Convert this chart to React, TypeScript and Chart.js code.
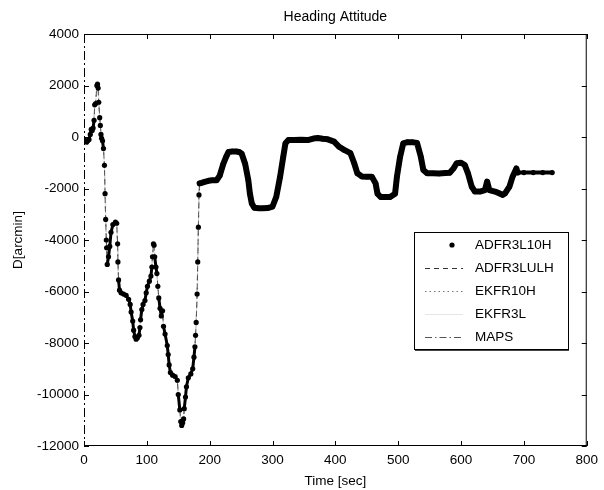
import React, { useEffect, useRef } from 'react';
import { Chart, registerables } from 'chart.js';

Chart.register(...registerables);

const chartTitle = 'Heading Attitude';
const xAxisLabel = 'Time [sec]';
const yAxisLabel = 'D[arcmin]';
const xTickValues = [0, 100, 200, 300, 400, 500, 600, 700, 800];
const yTickValues = [-12000, -10000, -8000, -6000, -4000, -2000, 0, 2000, 4000];
const seriesNames = ['ADFR3L10H', 'ADFR3LULH', 'EKFR10H', 'EKFR3L', 'MAPS'];

const timeSec = [
  0, 2, 4, 6, 8, 10, 11.5, 13, 14.5, 16, 17, 18.5, 20.5, 21.5, 22.5, 23.5, 25, 26, 27, 28, 29.5, 31, 32.5, 33.5, 34.5, 35.5,
  36, 37, 39, 41, 43, 46, 50, 52, 53.5, 54, 55, 56.5, 59, 63, 67, 71, 73.5, 75, 77.5, 79, 81, 83, 85, 87.5, 89, 90, 92, 94,
  97, 99, 101, 104, 106.5, 108, 109, 110.5, 111.5, 112.5, 114.5, 116, 117.5, 119, 121, 123, 125, 126.5, 129, 132.5, 134,
  135.5, 137.5, 141, 145, 148.5, 150, 152.5, 154, 155.5, 157, 158.5, 159.5, 161.5, 163, 166, 170, 173, 175, 176.5, 177.5,
  178.5, 180, 181, 182, 183, 184, 187, 192, 198, 204, 211, 216, 221.5, 226, 230, 236, 242, 247, 251, 256.5, 261.5, 264, 267,
  271, 278, 285, 292, 300, 306, 312, 317, 320.5, 325, 335, 345, 356, 365, 372, 380, 388, 398, 406, 414, 424, 430, 435, 442,
  450, 458, 464, 467, 472, 480, 487, 495, 498, 503, 508, 515, 522, 530, 536, 540, 546, 555, 565, 575, 582, 588, 593, 600,
  606, 611, 617, 622, 630, 638, 641.5, 645, 654, 662, 666, 670, 677, 682, 688, 690, 700, 715, 730, 745,
];

const adfr3l10h = [
  -100, -150, -200, -150, -100, 100, 300, 250, 350, 650, 1250, 1300, 2000, 2050, 1900, 1350, 750, 450, 100, -50, -150, -450,
  -1100, -2200, -3200, -4000, -4300, -4950, -4650, -4250, -3700, -3400, -3300, -3350, -4150, -4850, -5550, -5950, -6050,
  -6100, -6150, -6300, -6500, -6800, -7150, -7500, -7750, -7850, -7800, -7700, -7400, -7100, -6700, -6500, -6350, -6050,
  -5800, -5600, -5400, -5050, -4650, -4150, -4200, -4650, -5050, -5300, -5800, -6250, -6650, -6950, -6750, -7350, -7650,
  -8100, -8450, -8850, -9150, -9250, -9300, -9450, -10000, -10600, -11050, -11200, -11100, -10950, -10550, -10100, -9700,
  -9350, -9200, -9000, -8550, -8150, -7700, -7200, -6100, -4850, -3500, -2250, -1800, -1780, -1740, -1700, -1680, -1680,
  -1500, -1050, -780, -580, -560, -560, -580, -650, -1050, -1680, -2200, -2580, -2750, -2770, -2770, -2760, -2700, -2320,
  -1550, -780, -250, -120, -120, -110, -120, -60, -40, -70, -90, -180, -380, -500, -630, -1020, -1410, -1530, -1540, -1540,
  -1800, -2200, -2330, -2330, -2330, -2200, -1540, -770, -250, -200, -200, -230, -770, -1280, -1410, -1410, -1420, -1400,
  -1390, -1220, -1020, -1000, -1090, -1410, -1930, -2120, -2120, -2060, -1730, -2060, -2120, -2200, -2250, -2190, -1930,
  -1540, -1220, -1380, -1380, -1380, -1380, -1380,
];
// The other estimators lie underneath the dots in the picture; read as the same values.
const adfr3lulh = [...adfr3l10h];
const ekfr10h = [...adfr3l10h];
const ekfr3l = [...adfr3l10h];
const maps = [...adfr3l10h];

const FONT = "'Liberation Sans', Arial, Helvetica, sans-serif";

const lineStyles = [
  { color: '#000000', dash: [] as number[] },
  { color: '#333333', dash: [5, 4] },
  { color: '#777777', dash: [1.5, 3] },
  { color: '#e6e6e6', dash: [] as number[] },
  { color: '#555555', dash: [7, 3, 1.5, 3] },
];

function toPoints(values: number[]) {
  return values.map((v, i) => ({ x: timeSec[i], y: v }));
}

const framePlugin = {
  id: 'matlabFrame',
  afterDatasetsDraw(chart: any) {
    const { ctx, chartArea, scales } = chart;
    const { left, right, top, bottom } = chartArea;
    ctx.save();
    ctx.strokeStyle = '#000';
    ctx.lineWidth = 1;
    ctx.beginPath();
    ctx.moveTo(left, top + 0.5);
    ctx.lineTo(right, top + 0.5);
    ctx.moveTo(right - 0.5, top);
    ctx.lineTo(right - 0.5, bottom);
    ctx.moveTo(left, bottom - 0.5);
    ctx.lineTo(right, bottom - 0.5);
    ctx.stroke();
    ctx.beginPath();
    ctx.setLineDash([9, 3, 2, 3]);
    ctx.moveTo(left + 0.5, top);
    ctx.lineTo(left + 0.5, bottom);
    ctx.stroke();
    ctx.setLineDash([]);
    const tl = 5;
    ctx.beginPath();
    xTickValues.forEach((t) => {
      const x = Math.round(scales.x.getPixelForValue(t)) + 0.5;
      ctx.moveTo(x, bottom);
      ctx.lineTo(x, bottom - tl);
      ctx.moveTo(x, top);
      ctx.lineTo(x, top + tl);
    });
    yTickValues.forEach((t) => {
      const y = Math.round(scales.y.getPixelForValue(t)) + 0.5;
      ctx.moveTo(left, y);
      ctx.lineTo(left + tl, y);
      ctx.moveTo(right, y);
      ctx.lineTo(right - tl, y);
    });
    ctx.stroke();

    ctx.fillStyle = '#000';
    ctx.textAlign = 'center';
    ctx.textBaseline = 'middle';
    ctx.font = `14px ${FONT}`;
    ctx.fillText(chartTitle, (left + right) / 2, 17);
    ctx.font = `13.5px ${FONT}`;
    ctx.fillText(xAxisLabel, (left + right) / 2, 481);
    ctx.save();
    ctx.translate(18.5, (top + bottom) / 2);
    ctx.rotate(-Math.PI / 2);
    ctx.fillText(yAxisLabel, 0, 0);
    ctx.restore();

    const bx = 414, by = 232, bw = 154, bh = 117;
    ctx.fillStyle = '#fff';
    ctx.fillRect(bx, by, bw, bh);
    ctx.strokeStyle = '#000';
    ctx.lineWidth = 1;
    ctx.strokeRect(bx + 0.5, by + 0.5, bw, bh);
    ctx.strokeStyle = '#444';
    ctx.beginPath();
    ctx.moveTo(bx + 1, by + bh + 1.5);
    ctx.lineTo(bx + bw + 1, by + bh + 1.5);
    ctx.stroke();
    ctx.textAlign = 'left';
    ctx.font = `13.5px ${FONT}`;
    seriesNames.forEach((name, i) => {
      const y = 245 + i * 23;
      const st = lineStyles[i];
      if (i === 0) {
        ctx.fillStyle = '#000';
        ctx.beginPath();
        ctx.arc(452, y, 2.6, 0, Math.PI * 2);
        ctx.fill();
      } else {
        ctx.strokeStyle = st.color;
        ctx.lineWidth = 1;
        ctx.setLineDash(st.dash);
        ctx.beginPath();
        ctx.moveTo(425, y + 0.5);
        ctx.lineTo(463, y + 0.5);
        ctx.stroke();
        ctx.setLineDash([]);
      }
      ctx.fillStyle = '#000';
      ctx.fillText(name, 475, y);
    });
    ctx.restore();
  },
};

export default function App() {
  const canvasRef = useRef<HTMLCanvasElement | null>(null);

  useEffect(() => {
    const canvas = canvasRef.current;
    if (!canvas) return;
    const seriesValues = [adfr3l10h, adfr3lulh, ekfr10h, ekfr3l, maps];
    const datasets: any[] = seriesValues.map((vals, i) => {
      if (i === 0) {
        return {
          label: seriesNames[0],
          data: toPoints(vals),
          showLine: true,
          borderColor: '#000',
          borderWidth: 6,
          borderCapStyle: 'round',
          borderJoinStyle: 'round',
          pointRadius: 2.6,
          pointBackgroundColor: '#000',
          pointBorderWidth: 0,
          segment: {
            borderColor: (c: any) => {
              const dx = Math.abs(c.p1.x - c.p0.x);
              const dy = Math.abs(c.p1.y - c.p0.y);
              return dy / Math.max(dx, 0.01) < 12 ? '#000' : 'rgba(0,0,0,0)';
            },
            borderWidth: (c: any) => {
              const t = timeSec[c.p0DataIndex];
              if (t < 184) return 3;
              return t >= 690 ? 4 : 6;
            },
          },
        };
      }
      return {
        label: seriesNames[i],
        data: toPoints(vals),
        showLine: true,
        borderColor: lineStyles[i].color,
        borderDash: lineStyles[i].dash,
        borderWidth: 0.8,
        pointRadius: 0,
      };
    });

    const tickFont = { family: FONT, size: 13.5 };
    const chart = new Chart(canvas, {
      type: 'scatter',
      data: { datasets },
      options: {
        responsive: false,
        animation: false,
        devicePixelRatio: 1,
        layout: { padding: { left: 0, right: 13, top: 34, bottom: 0 } },
        plugins: { legend: { display: false }, title: { display: false }, tooltip: { enabled: false } },
        scales: {
          x: {
            type: 'linear',
            min: 0,
            max: 800,
            afterFit: (s: any) => { s.height = 44; },
            afterBuildTicks: (s: any) => { s.ticks = xTickValues.map((v) => ({ value: v })); },
            ticks: { color: '#000', font: tickFont, padding: 6, maxRotation: 0, autoSkip: false, callback: (v: any) => String(v) },
            grid: { display: false, drawTicks: false },
            border: { display: false },
          },
          y: {
            type: 'linear',
            min: -12000,
            max: 4000,
            afterFit: (s: any) => { s.width = 84; },
            afterBuildTicks: (s: any) => { s.ticks = yTickValues.map((v) => ({ value: v })); },
            ticks: { color: '#000', font: tickFont, padding: 5, autoSkip: false, callback: (v: any) => String(v) },
            grid: { display: false, drawTicks: false },
            border: { display: false },
          },
        },
      },
      plugins: [framePlugin],
    });
    return () => chart.destroy();
  }, []);

  return (
    <div style={{ position: 'fixed', left: 0, top: 0, width: 604, height: 490, background: '#fff' }}>
      <canvas ref={canvasRef} width={604} height={490} style={{ display: 'block', width: 604, height: 490 }} />
    </div>
  );
}
